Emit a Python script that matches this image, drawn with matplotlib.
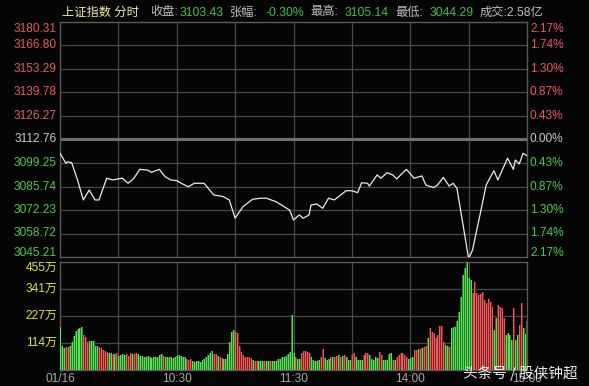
import matplotlib
matplotlib.use('Agg')
import matplotlib.pyplot as plt
import numpy as np

plt.rcParams['font.family'] = ['Liberation Sans', 'Noto Sans CJK SC', 'DejaVu Sans']

# ---------------------------------------------------------------- data
# minute index (0 = 09:30, 120 = 11:30/13:00, 240 = 15:00) and price
price_t = [0, 3, 4, 6, 9, 12, 15, 18, 20, 24, 27, 29, 32, 35, 38, 41, 45, 47, 51, 54,
           57, 60, 63, 66, 69, 74, 79, 84, 87, 90, 94, 99, 103, 106, 111, 118, 120, 123,
           125, 128, 129, 132, 135, 138, 141, 147, 150, 153, 155, 158, 159, 163, 165, 168,
           171, 173, 178, 182, 186, 188, 192, 194, 197, 200, 202, 204, 210, 212, 216, 219,
           223, 225, 230, 233, 234, 236, 238, 240]
price = [3104.9, 3099.1, 3100.0, 3099.4, 3089.5, 3078.0, 3083.7, 3078.0, 3078.0, 3090.5,
         3089.5, 3089.9, 3090.5, 3087.6, 3090.5, 3095.6, 3095.2, 3093.9, 3095.6, 3091.4,
         3089.5, 3089.1, 3087.2, 3085.6, 3087.6, 3087.6, 3080.9, 3079.9, 3078.0, 3067.5,
         3074.1, 3078.4, 3079.0, 3079.0, 3077.0, 3072.2, 3066.5, 3069.4, 3067.5, 3069.4,
         3075.1, 3075.7, 3073.2, 3079.0, 3078.0, 3083.3, 3083.3, 3082.2, 3087.9, 3087.6,
         3086.0, 3092.4, 3090.5, 3093.7, 3092.4, 3090.1, 3095.6, 3090.5, 3091.8, 3086.6,
         3085.1, 3086.6, 3091.0, 3086.0, 3087.6, 3084.7, 3044.3, 3049.2, 3070.3, 3086.6,
         3094.8, 3089.5, 3102.0, 3095.6, 3101.0, 3098.7, 3104.8, 3103.43]

# volume per minute (万), 241 bars
volume = [182, 101, 91, 98, 95, 101, 119, 143, 166, 173,
          176, 180, 147, 138, 119, 123, 123, 123, 101, 101,
          95, 91, 84, 81, 77, 70, 70, 66, 68, 70,
          60, 62, 66, 62, 66, 60, 72, 66, 68, 70,
          66, 59, 59, 56, 56, 59, 56, 50, 53, 55,
          56, 62, 66, 60, 56, 56, 55, 56, 50, 55,
          59, 62, 59, 55, 55, 48, 42, 45, 39, 34,
          36, 38,
          35, 42, 46, 53, 63, 70, 81, 66, 66, 59,
          56, 49, 45, 46, 66, 119, 161, 168, 161, 154,
          101, 77, 63, 56, 53, 53, 49, 42, 38, 38,
          37, 36, 37, 36, 37, 37, 36, 37, 38, 38,
          45, 46, 53, 56, 60, 66, 77, 232, 73, 56,
          46, 46, 70, 80, 80, 77, 70, 56, 42, 38,
          38, 42, 56, 87, 49, 42, 45, 56, 53, 56,
          59, 63, 53, 60, 63, 56, 42, 42, 63, 73,
          56, 42, 42, 42, 63, 70, 70, 63, 45, 42,
          56, 49, 74, 63, 42, 42, 42, 66, 70, 42, 42,
          56, 63,
          70, 73, 63, 56, 45, 49, 53, 84, 86, 87,
          87, 91, 95, 101, 133, 176, 161, 154, 133, 147,
          185, 185, 119, 105, 101, 95, 176, 183, 183, 206,
          246, 309, 400, 428, 455, 386, 379, 323, 372, 323,
          316, 319, 330, 295, 284, 298, 288, 267, 168, 218,
          274, 267, 260, 218, 147, 154, 147, 126, 260, 126,
          147, 190, 284, 176, 150, 206]

# bar direction: r = up, g = down
vol_dir = ("gggrrggggggg" "rrr" "ggggg" "rrrrr" "gg" "r" "g" "r" "gggg" "rrr" "g" "rr"
           "ggggggggggggg" "r" "ggggggggggg" "rrr" "gg"
           "gg"
           "gggggggrrg" "rrggg" "ggg" "rrr" "rrrrrrgrr" "gggrggrggg" "ggggggg" "g" "g" "r"
           "gg" "rrrrr" "ggggg" "rr" "ggg" "rgrrgr" "grggg" "rr" "gggg" "rrrg" "ggggr"
           "rggg" "ggrg"
           "rr"
           "rrrr" "ggg" "rrgrgrr" "g" "r" "rrrr" "rr" "rggr" "gggg" "ggggg" "gg"
           "rrrrrrrrrrr" "g" "g" "rrrr" "gggg" "r" "g" "g" "r" "r" "g" "g" "g")

price_ticks = [3180.31, 3166.80, 3153.29, 3139.78, 3126.27, 3112.76,
               3099.25, 3085.74, 3072.23, 3058.72, 3045.21]
pct_labels = ['2.17%', '1.74%', '1.30%', '0.87%', '0.43%', '0.00%',
              '0.43%', '0.87%', '1.30%', '1.74%', '2.17%']
prev_close = 3112.76
vol_ticks = [455, 341, 227, 114]
time_ticks = [0, 60, 120, 180, 240]
time_labels = ['01/16', '10:30', '11:30', '14:00', '15:00']

# ---------------------------------------------------------------- colours
BG = '#050505'
GRID = '#4a4a4a'
RED = '#e65a5a'
GREEN = '#4cc94c'
BAR_RED = '#f05a5a'
BAR_GREEN = '#5ae05a'
BAR_RED_DIM = '#7a2626'
BAR_GREEN_DIM = '#267a26'
GRAY_TXT = '#c8c8c8'
YELLOW = '#e0e050'

W, H = 589, 386
fig = plt.figure(figsize=(W / 100, H / 100), dpi=100, facecolor=BG)


def px_axes(l, t, r, b):
    return fig.add_axes([l / W, (H - b) / H, (r - l) / W, (b - t) / H], facecolor=BG)


ax = px_axes(60, 22, 527, 257)
axv = px_axes(60, 262, 527, 370)

for a in (ax, axv):
    for s in a.spines.values():
        s.set_color('#5a5a5a')
        s.set_linewidth(1.0)
    a.set_xticks([])
    a.set_yticks([])
    a.set_xlim(0, 240)
    for t in range(30, 240, 30):
        a.axvline(t, color=GRID, lw=0.9, zorder=1)

# ---------------------------------------------------------------- price panel
ax.set_ylim(price_ticks[-1], price_ticks[0])
for p in price_ticks[1:-1]:
    if p == prev_close:
        ax.axhline(p, color='#6e6e6e', lw=2.2, zorder=1)
    else:
        ax.axhline(p, color=GRID, lw=0.9, zorder=1)

ax.plot(price_t, price, color='#ececec', lw=0.9, zorder=3)

n = len(price_ticks)
for i, (p, lab) in enumerate(zip(price_ticks, pct_labels)):
    if p > prev_close:
        c = RED
    elif p < prev_close:
        c = GREEN
    else:
        c = GRAY_TXT
    dy = -7 if i == 0 else (4 if i == n - 1 else 0)
    ax.annotate(f'{p:.2f}', xy=(0, p), xycoords=('axes fraction', 'data'),
                xytext=(-3, dy), textcoords='offset pixels',
                ha='right', va='center', fontsize=8.6, color=c)
    ax.annotate(lab, xy=(1, p), xycoords=('axes fraction', 'data'),
                xytext=(3, dy), textcoords='offset pixels',
                ha='left', va='center', fontsize=8.6, color=c)

# ---------------------------------------------------------------- volume panel
axv.set_ylim(0, vol_ticks[0])
for v in vol_ticks[1:]:
    axv.axhline(v, color=GRID, lw=0.9, zorder=1)

vx = np.arange(len(volume))
dirs = vol_dir[:len(volume)]
vcol = [BAR_RED if d == 'r' else BAR_GREEN for d in dirs]
vdim = [BAR_RED_DIM if d == 'r' else BAR_GREEN_DIM for d in dirs]
# dim 2px halo under a bright 1px column, like the screenshot's blurred bars
axv.vlines(vx + 0.25, 0, volume, colors=vdim, linewidth=1.44, antialiased=False, zorder=2)
axv.vlines(vx, 0, volume, colors=vcol, linewidth=0.72, antialiased=False, zorder=3)

for i, v in enumerate(vol_ticks):
    dy = -6 if i == 0 else 0
    axv.annotate(f'{v}万', xy=(0, v), xycoords=('axes fraction', 'data'),
                 xytext=(-3, dy), textcoords='offset pixels',
                 ha='right', va='center', fontsize=8.6, color=YELLOW)

for t, lab in zip(time_ticks, time_labels):
    axv.annotate(lab, xy=(t, 0), xycoords=('data', 'axes fraction'),
                 xytext=(0, -9), textcoords='offset pixels',
                 ha='center', va='center', fontsize=8.6, color='#a8a8a8')

# ---------------------------------------------------------------- header row
header = [
    (62, '上证指数 分时', '#f2eca8'),
    (150, '收盘:', '#bdbdbd'),
    (180, '3103.43', '#3fbf4a'),
    (230, '张幅:', '#bdbdbd'),
    (265, '-0.30%', '#3fbf4a'),
    (310, '最高:', '#bdbdbd'),
    (345, '3105.14', '#3fbf4a'),
    (395, '最低:', '#bdbdbd'),
    (430, '3044.29', '#3fbf4a'),
    (480, '成交:2.58亿', '#bdbdbd'),
]
for x, s, c in header:
    fig.text(x / W, (H - 12.5) / H, s, ha='left', va='center', fontsize=8.8, color=c)

# watermark (sits over the 15:00 label, as in the source screenshot)
fig.text(463 / W, (H - 373) / H, '头条号 / 股侠钟超', ha='left', va='center',
         fontsize=10.5, color='white', alpha=0.92, zorder=10,
         family=['Noto Sans CJK SC', 'DejaVu Sans'])

fig.savefig('out.png', dpi=100, facecolor=BG)
